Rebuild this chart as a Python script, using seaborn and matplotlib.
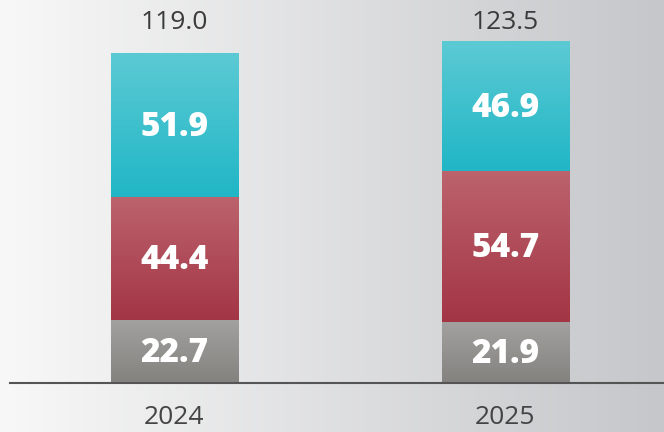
import numpy as np
import seaborn as sns
import matplotlib.pyplot as plt
from matplotlib.colors import to_rgb

years = ['2024', '2025']
gray_vals = [22.7, 21.9]
red_vals = [44.4, 54.7]
teal_vals = [51.9, 46.9]
totals = [119.0, 123.5]

# (top colour, bottom colour) for each stacked segment
seg_colors = [('#a3a19f', '#84827f'), ('#bc636d', '#a33545'), ('#5ccad4', '#20b6c6')]


def vgrad(c_top, c_bot, n=256):
    a = np.array(to_rgb(c_top))
    b = np.array(to_rgb(c_bot))
    t = np.linspace(0, 1, n)[:, None]
    return (a * (1 - t) + b * t)[:, None, :]


sns.set_theme(style='white')
plt.rcParams['font.family'] = ['Open Sans', 'DejaVu Sans']

fig = plt.figure(figsize=(6.64, 4.32), dpi=100)

# background: horizontal light-to-gray gradient
bg = fig.add_axes([0, 0, 1, 1], zorder=-10)
left, right = np.array(to_rgb('#f8f8f8')), np.array(to_rgb('#c6c7ca'))
t = np.linspace(0, 1, 256)[None, :, None]
bg.imshow(left * (1 - t) + right * t, aspect='auto', extent=[0, 1, 0, 1])
bg.set_axis_off()

ax = fig.add_axes([10 / 664, 49 / 432, 654 / 664, 359.5 / 432])
ax.patch.set_alpha(0)

base = np.zeros(len(years))
for vals, (ctop, cbot) in zip([gray_vals, red_vals, teal_vals], seg_colors):
    n_before = len(ax.patches)
    sns.barplot(x=years, y=vals, bottom=base.copy(), width=0.384, color=cbot,
                saturation=1, linewidth=0, ax=ax)
    for i, p in enumerate(ax.patches[n_before:]):
        x0, y0, w, h = p.get_x(), p.get_y(), p.get_width(), p.get_height()
        ax.imshow(vgrad(ctop, cbot), aspect='auto', extent=[x0, x0 + w, y0, y0 + h],
                  zorder=2)
        p.set_visible(False)
        ax.text(x0 + w / 2, y0 + h / 2 - 0.6, f'{vals[i]:.1f}', ha='center', va='center',
                color='white', fontsize=24, fontweight='heavy', zorder=3)
    base += np.array(vals)

for i, tot in enumerate(totals):
    ax.text(i, 130.3, f'{tot:.1f}', ha='center', va='center', fontsize=19,
            color='#3b3b3b', clip_on=False)

ax.set_xlim(-0.497, 1.479)
ax.set_ylim(0, 130)
ax.set_yticks([])
ax.set_xlabel('')
ax.set_ylabel('')
for s in ['top', 'right', 'left']:
    ax.spines[s].set_visible(False)
ax.spines['bottom'].set_color('#555555')
ax.spines['bottom'].set_linewidth(1.5)
ax.tick_params(axis='x', length=0, pad=16, labelsize=19, labelcolor='#444444')

fig.savefig('out.png', dpi=100)
